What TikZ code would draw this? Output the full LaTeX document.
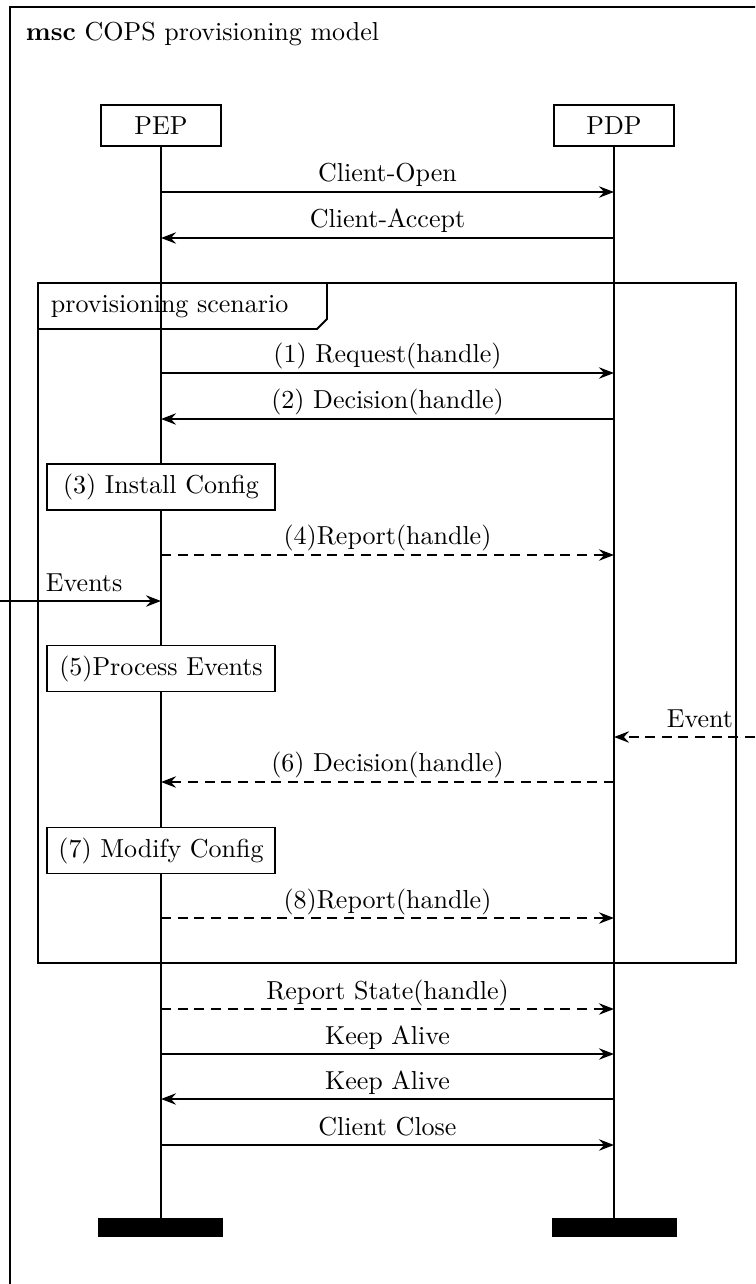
\documentclass[tikz,border=0pt]{standalone}
\usetikzlibrary{arrows.meta}
\begin{document}
\begin{tikzpicture}[x=0.3846pt,y=-0.3846pt,line width=0.75pt,
  msg/.style={-{Stealth[length=5.8pt,width=4.4pt,inset=2pt]}},
  dmsg/.style={msg,dash pattern=on 3.85pt off 2.55pt},
  lbl/.style={anchor=base,inner sep=0pt},
  instbox/.style={draw,fill=white,minimum width=46.5pt,minimum height=15.8pt,inner sep=0pt},
  actbox/.style={draw,fill=white,minimum width=87.7pt,minimum height=17.7pt,inner sep=0pt},
  endbar/.style={fill=black,draw=black,line width=0.4pt}]
\useasboundingbox (0,0) rectangle (755,1284);
\begin{scope}
\clip (0,0) rectangle (755,1284);
% outer msc frame
\draw (10,7) rectangle (800,1330);
\end{scope}
\node[lbl,anchor=base west] (title) at (25,40) {\textbf{msc} COPS provisioning model};
% instance heads
\node[instbox] (pep) at (161,125.5) {PEP};
\node[instbox] (pdp) at (614,125.5) {PDP};
% instance ends
\coordinate (pepend) at (161,1219);
\coordinate (pdpend) at (614,1219);
\draw (pep.south) -- (pepend);
\draw (pdp.south) -- (pdpend);
\fill[endbar] (99,1219) rectangle (222,1236);
\fill[endbar] (553,1219) rectangle (676,1236);
% message end points
\foreach \n/\y in {a/192,b/238,c/373,d/419,e/555,f/601,g/737,h/782,i/918,j/1009,k/1054,l/1099,m/1145}{
  \coordinate (p\n) at (161,\y);
  \coordinate (q\n) at (614,\y);
}
\coordinate (envl) at (0,601);
\coordinate (envr) at (755,737);
% inline frame
\draw (38,283) rectangle (736,963);
\draw (38,329) -- (317,329) -- (327,319) -- (327,283);
\node[lbl,anchor=base west] (inl) at (50,312) {provisioning scenario};
% actions
\node[actbox] (act3) at (161,487) {(3) Install Config};
\node[actbox] (act5) at (161,668.5) {(5)Process Events};
\node[actbox] (act7) at (161,850.5) {(7) Modify Config};
% messages
\draw[msg] (pa) -- (qa) node[lbl,midway,yshift=3.85pt] (la) {Client-Open};
\draw[msg] (qb) -- (pb) node[lbl,midway,yshift=3.85pt] (lb) {Client-Accept};
\draw[msg] (pc) -- (qc) node[lbl,midway,yshift=3.85pt] (lc) {(1) Request(handle)};
\draw[msg] (qd) -- (pd) node[lbl,midway,yshift=3.85pt] (ld) {(2) Decision(handle)};
\draw[dmsg] (pe) -- (qe) node[lbl,midway,yshift=3.85pt] (le) {(4)Report(handle)};
\draw[msg] (envl) -- (pf);
\node[lbl,anchor=base west] (lf) at (45,591) {Events};
\draw[dmsg] (envr) -- (qg);
\node[lbl,anchor=base east] (lg) at (734,727) {Event};
\draw[dmsg] (qh) -- (ph) node[lbl,midway,yshift=3.85pt] (lh) {(6) Decision(handle)};
\draw[dmsg] (pi) -- (qi) node[lbl,midway,yshift=3.85pt] (li) {(8)Report(handle)};
\draw[dmsg] (pj) -- (qj) node[lbl,midway,yshift=3.85pt] (lj) {Report State(handle)};
\draw[msg] (pk) -- (qk) node[lbl,midway,yshift=3.85pt] (lk) {Keep Alive};
\draw[msg] (ql) -- (pl) node[lbl,midway,yshift=3.85pt] (ll) {Keep Alive};
\draw[msg] (pm) -- (qm) node[lbl,midway,yshift=3.85pt] (lm) {Client Close};
\end{tikzpicture}
\end{document}
